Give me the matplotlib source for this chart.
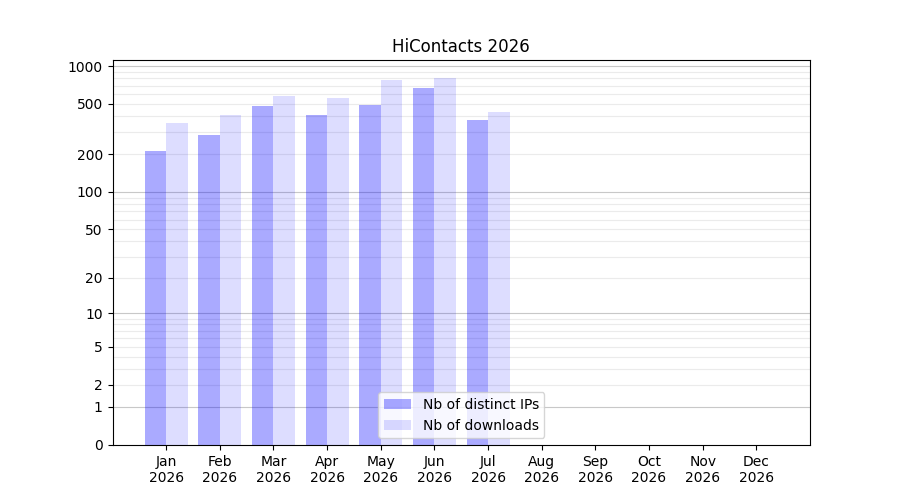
import numpy as np
import matplotlib
matplotlib.use("Agg")
import matplotlib.pyplot as plt

months = ["Jan", "Feb", "Mar", "Apr", "May", "Jun", "Jul", "Aug", "Sep", "Oct", "Nov", "Dec"]
year = "2026"
distinct_ips = [212, 284, 482, 409, 491, 670, 374]
downloads = [354, 409, 579, 558, 779, 804, 432]
ytick_values = [0, 1, 2, 5, 10, 20, 50, 100, 200, 500, 1000]

fwd = lambda v: np.log10(np.maximum(v, 0) + 1)
inv = lambda y: 10 ** y - 1

fig, ax = plt.subplots(figsize=(9, 5), dpi=100)
ax.set_yscale("function", functions=(fwd, inv))

# grid lines
for dec in [1, 10, 100]:
    for k in range(2, 10):
        ax.axhline(k * dec, color="#ebebeb", lw=0.8, zorder=0)
for v in [1, 10, 100, 1000]:
    ax.axhline(v, color="#c8c8c8", lw=0.8, zorder=0)

x_ip = np.arange(len(distinct_ips))
x_dl = np.arange(len(downloads))
ax.bar(x_ip, distinct_ips, width=-0.4, align="edge", color="blue", alpha=0.333,
       label="Nb of distinct IPs", zorder=1)
ax.bar(x_dl, downloads, width=0.4, align="edge", color="blue", alpha=0.133,
       label="Nb of downloads", zorder=1)

ax.set_xticks(np.arange(len(months)))
ax.set_xticklabels([f"{m}\n{year}" for m in months])
ax.set_xlim(-1, 12)
ax.set_yticks(ytick_values)
ax.set_yticklabels([str(v) for v in ytick_values])
ax.minorticks_off()
top = inv(fwd(max(max(distinct_ips), max(downloads))) * 1.049)
ax.set_ylim(0, top)
ax.set_title("HiContacts 2026")
ax.legend(loc="lower center")

fig.savefig("out.png", dpi=100)
